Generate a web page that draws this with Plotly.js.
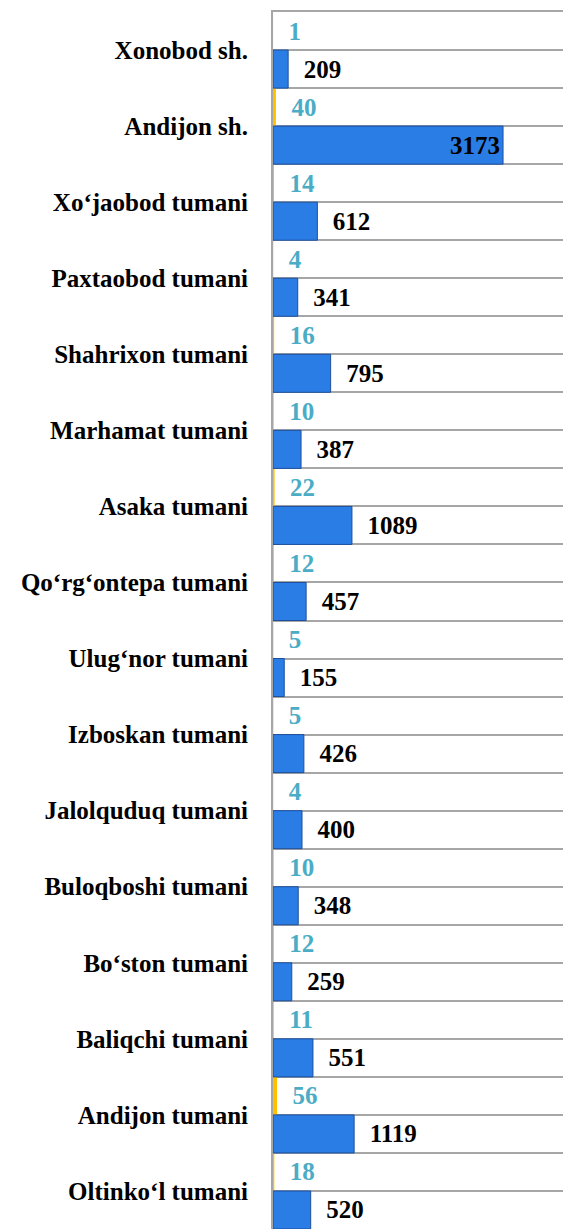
<!DOCTYPE html>
<html>
<head>
<meta charset="utf-8">
<script src="https://cdn.plot.ly/plotly-3.0.1.min.js"></script>
<style>html,body{margin:0;padding:0;overflow:hidden;background:#fff;}</style>
</head>
<body>
<div id="chart" style="width:563px;height:1229px;"></div>
<script>
const categories = [
  "Xonobod sh.", "Andijon sh.", "Xo‘jaobod tumani", "Paxtaobod tumani",
  "Shahrixon tumani", "Marhamat tumani", "Asaka tumani", "Qo‘rg‘ontepa tumani",
  "Ulug‘nor tumani", "Izboskan tumani", "Jalolquduq tumani", "Buloqboshi tumani",
  "Bo‘ston tumani", "Baliqchi tumani", "Andijon tumani", "Oltinko‘l tumani"
];
const smallValues = [1, 40, 14, 4, 16, 10, 22, 12, 5, 5, 4, 10, 12, 11, 56, 18];
const bigValues = [209, 3173, 612, 341, 795, 387, 1089, 457, 155, 426, 400, 348, 259, 551, 1119, 520];

const xMax = 4000;
const idx = categories.map((_, i) => i);
const FAMILY = "Times New Roman, Liberation Serif, DejaVu Serif, serif";

const tickvals = [];
const ticktext = [];
for (let i = 0; i < categories.length; i++) {
  tickvals.push(i - 0.5); ticktext.push("");
  tickvals.push(i); ticktext.push(categories[i]);
}
tickvals.push(categories.length - 0.5); ticktext.push("");

const pad = "\u00a0\u00a0";
const bigPos = bigValues.map(v => (v / xMax > 0.75 ? "inside" : "outside"));

const traces = [
  {
    type: "bar", orientation: "h",
    y: idx, x: smallValues,
    offset: -0.5, width: 0.5,
    marker: { color: "#ffc000" },
    text: smallValues.map(v => pad + v),
    textposition: "outside",
    cliponaxis: false,
    constraintext: "none",
    textfont: { family: FAMILY, size: 25, color: "#4bacc6", weight: 700 },
    hoverinfo: "skip"
  },
  {
    type: "bar", orientation: "h",
    y: idx, x: bigValues,
    offset: 0, width: 0.5,
    marker: { color: "#2b7de6", line: { color: "#1d4f9c", width: 1 } },
    text: bigValues.map(v => pad + v),
    textposition: bigPos,
    insidetextanchor: "end",
    cliponaxis: false,
    constraintext: "none",
    textfont: { family: FAMILY, size: 25, color: "#000000", weight: 700 },
    hoverinfo: "skip"
  }
];

const layout = {
  width: 563, height: 1229,
  margin: { l: 273, r: 0, t: 12, b: 0 },
  paper_bgcolor: "#ffffff", plot_bgcolor: "#ffffff",
  barmode: "overlay",
  showlegend: false,
  font: { family: FAMILY },
  xaxis: {
    range: [0, xMax], showgrid: false, zeroline: false,
    showticklabels: false, showline: true, mirror: true,
    linecolor: "#a6a6a6", linewidth: 2, fixedrange: true
  },
  yaxis: {
    range: [categories.length - 0.5, -0.5],
    tickmode: "array", tickvals: tickvals, ticktext: ticktext,
    showgrid: true, gridcolor: "#a6a6a6", gridwidth: 2,
    zeroline: false, showline: true, linecolor: "#a6a6a6", linewidth: 2,
    ticks: "", ticklabelstandoff: 18,
    tickfont: { family: FAMILY, size: 25, color: "#000000", weight: 700 },
    fixedrange: true
  }
};

Plotly.newPlot("chart", traces, layout, { displayModeBar: false, staticPlot: true });
</script>
</body>
</html>
